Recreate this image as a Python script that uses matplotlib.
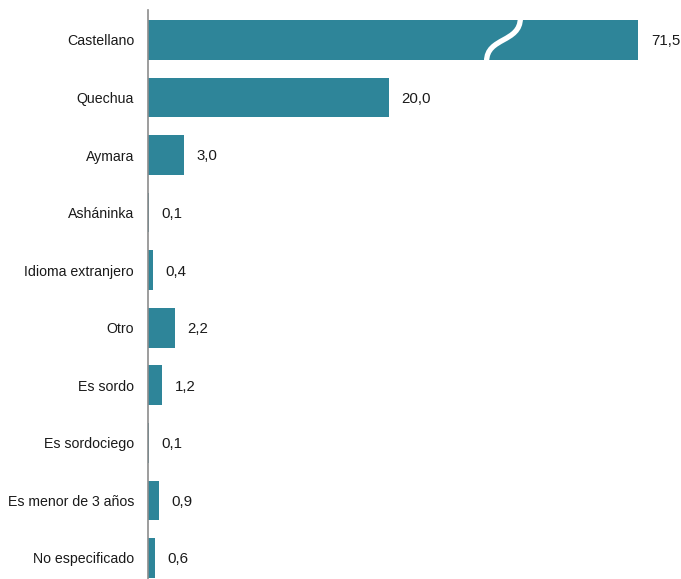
import matplotlib
matplotlib.use("Agg")
import matplotlib.pyplot as plt
from matplotlib.path import Path
from matplotlib.patches import PathPatch

categories = ["Castellano", "Quechua", "Aymara", "Asháninka", "Idioma extranjero",
              "Otro", "Es sordo", "Es sordociego", "Es menor de 3 años", "No especificado"]
values = [71.5, 20.0, 3.0, 0.1, 0.4, 2.2, 1.2, 0.1, 0.9, 0.6]
labels = ["71,5", "20,0", "3,0", "0,1", "0,4", "2,2", "1,2", "0,1", "0,9", "0,6"]

BAR_COLOR = "#2e8599"
CAP = 40.7  # broken-axis display cap for very long bars
FONT = ["Liberation Sans", "DejaVu Sans"]

fig = plt.figure(figsize=(6.81, 5.79), dpi=100)
ax = fig.add_axes([148/681, 0, 1 - 148/681, 1 - 10/579])

ypos = list(range(len(categories)))
shown = [min(v, CAP) for v in values]
ax.barh(ypos, shown, height=0.69, color=BAR_COLOR)

for y, s, lab in zip(ypos, shown, labels):
    ax.annotate(lab, xy=(s, y), xytext=(9, -1), textcoords="offset points",
                ha="left", va="center", fontsize=10.8, family=FONT, color="#1a1a1a")

ax.set_xlim(0, (681 - 148) / 12.05)
ax.set_ylim(9.365, -0.52)
ax.set_yticks(ypos)
ax.set_yticklabels(categories, family=FONT, fontsize=10.2, color="#1a1a1a")
ax.tick_params(axis="y", length=0, pad=10)
ax.set_xticks([])
for sp in ["top", "right", "bottom"]:
    ax.spines[sp].set_visible(False)
ax.spines["left"].set_color("#8c8c8c")
ax.spines["left"].set_linewidth(1.2)

# break mark on the truncated bar
x0, x1 = 28.1, 30.9
verts = [(x0, 0.37), (x0, -0.05), (x1, 0.05), (x1, -0.38)]
codes = [Path.MOVETO, Path.CURVE4, Path.CURVE4, Path.CURVE4]
ax.add_patch(PathPatch(Path(verts, codes), facecolor="none", edgecolor="white",
                       linewidth=3.8, capstyle="butt", zorder=3))

fig.savefig("out.png", dpi=100)
